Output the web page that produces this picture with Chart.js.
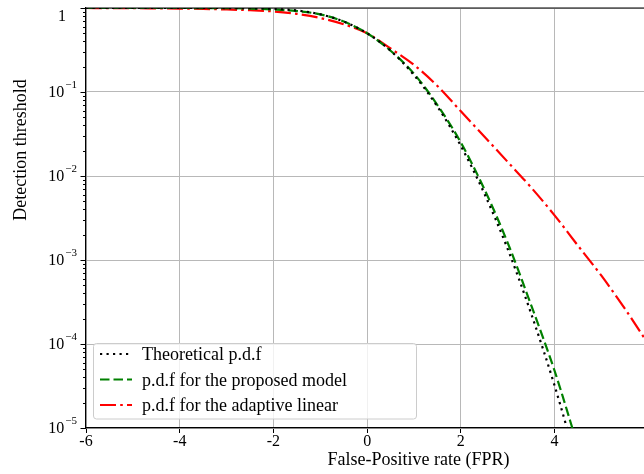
<!DOCTYPE html>
<html>
<head>
<meta charset="utf-8">
<script src="https://cdn.jsdelivr.net/npm/chart.js@4.4.1/dist/chart.umd.min.js"></script>
<style>
  html, body { margin: 0; padding: 0; background: #fff; overflow: hidden; }
  #wrap { width: 760px; height: 474px; }
  canvas { display: block; }
</style>
</head>
<body>
<div id="wrap"><canvas id="myChart" width="760" height="474"></canvas></div>
<script>
const FONT = "'Liberation Serif', 'DejaVu Serif', serif";

const xValues = [-6, -5.5, -5, -4.5, -4, -3.5, -3, -2.5, -2, -1.5, -1, -0.5, 0, 0.5, 1, 1.5, 2, 2.5, 3, 3.5, 4, 4.5, 5, 5.5, 6];
const theoretical = [1, 1, 1, 1, 1, 1, 0.999, 0.994, 0.977, 0.933, 0.841, 0.69, 0.5, 0.31, 0.159, 0.067, 0.0228, 0.0062, 0.00135, 0.00023, 0.000032, 0.0000034, null, null, null];
const proposed = [1, 1, 1, 1, 1, 0.998, 0.995, 0.985, 0.96, 0.92, 0.84, 0.69, 0.5, 0.31, 0.165, 0.07, 0.025, 0.007, 0.0016, 0.00029, 0.000048, 0.000006, null, null, null];
const adaptive = [1, 0.998, 0.995, 0.99, 0.985, 0.975, 0.96, 0.94, 0.91, 0.85, 0.76, 0.64, 0.5, 0.33, 0.21, 0.118, 0.059, 0.0295, 0.0147, 0.0073, 0.0034, 0.00148, 0.00065, 0.000263, 0.0001];

const seriesNames = ["Theoretical p.d.f", "p.d.f for the proposed model", "p.d.f for the adaptive linear"];
const xTitle = "False-Positive rate (FPR)";
const yTitle = "Detection threshold";
const yTickValues = [1e-5, 1e-4, 1e-3, 1e-2, 1e-1, 1];
const yTickExp = [-5, -4, -3, -2, -1, 0];

function pts(arr) {
  return xValues.map((x, i) => ({ x: x, y: arr[i] }));
}

// y labels with superscripts, minor log ticks, titles, top spine, legend box
const decor = {
  id: "decor",
  afterDraw(chart) {
    const ctx = chart.ctx;
    const y = chart.scales.y;
    const a = chart.chartArea;
    ctx.save();
    ctx.strokeStyle = "#000";
    ctx.lineWidth = 1.2;
    // top spine
    ctx.beginPath();
    ctx.moveTo(a.left, a.top);
    ctx.lineTo(a.right, a.top);
    ctx.stroke();
    // major + minor y ticks
    ctx.lineWidth = 1;
    yTickValues.forEach((v, i) => {
      let py = Math.round(y.getPixelForValue(v)) + 0.5;
      ctx.beginPath();
      ctx.moveTo(a.left - 5.5, py);
      ctx.lineTo(a.left, py);
      ctx.stroke();
      if (i < yTickValues.length - 1) {
        for (let m = 2; m <= 9; m++) {
          let my = Math.round(y.getPixelForValue(v * m)) + 0.5;
          ctx.beginPath();
          ctx.moveTo(a.left - 3, my);
          ctx.lineTo(a.left, my);
          ctx.stroke();
        }
      }
    });
    // y labels
    ctx.fillStyle = "#000";
    ctx.textBaseline = "alphabetic";
    yTickValues.forEach((v, i) => {
      let py = y.getPixelForValue(v);
      let right = a.left - 9;
      if (yTickExp[i] === 0) {
        ctx.font = "16px " + FONT;
        ctx.textAlign = "right";
        ctx.fillText("1", a.left - 20, py + 13);
        return;
      }
      ctx.font = "11px " + FONT;
      ctx.textAlign = "right";
      let sup = "\u2212" + Math.abs(yTickExp[i]);
      let sw = ctx.measureText(sup).width;
      ctx.fillText(sup, right, py - 4);
      ctx.font = "16px " + FONT;
      ctx.fillText("10", right - sw - 1, py + 5);
    });
    // axis titles
    ctx.font = "18px " + FONT;
    ctx.textAlign = "center";
    ctx.fillText(xTitle, 418.5, 465);
    ctx.save();
    ctx.translate(25.5, 150);
    ctx.rotate(-Math.PI / 2);
    ctx.fillText(yTitle, 0, 0);
    ctx.restore();
    // legend
    const lx = 93.5, ly = 343.5, lw = 323, lh = 75.5;
    ctx.fillStyle = "rgba(255,255,255,0.8)";
    ctx.strokeStyle = "#cccccc";
    ctx.lineWidth = 1;
    ctx.beginPath();
    ctx.roundRect(lx, ly, lw, lh, 3);
    ctx.fill();
    ctx.stroke();
    chart.data.datasets.forEach((ds, i) => {
      let cy = 354 + i * 25.5;
      ctx.strokeStyle = ds.borderColor;
      ctx.lineWidth = ds.borderWidth;
      ctx.setLineDash(ds.borderDash);
      ctx.lineCap = "butt";
      ctx.beginPath();
      ctx.moveTo(100, cy);
      ctx.lineTo(132, cy);
      ctx.stroke();
      ctx.setLineDash([]);
      ctx.fillStyle = "#000";
      ctx.font = "18px " + FONT;
      ctx.textAlign = "left";
      ctx.textBaseline = "alphabetic";
      ctx.fillText(ds.label, 142, cy + 6);
    });
    ctx.restore();
  },
};

const ctx = document.getElementById("myChart").getContext("2d");

new Chart(ctx, {
  type: "line",
  data: {
    datasets: [
      {
        label: seriesNames[0],
        data: pts(theoretical),
        borderColor: "#000000",
        borderWidth: 2.2,
        borderDash: [2.2, 4.3],
      },
      {
        label: seriesNames[1],
        data: pts(proposed),
        borderColor: "#008000",
        borderWidth: 2.2,
        borderDash: [9.5, 4],
      },
      {
        label: seriesNames[2],
        data: pts(adaptive),
        borderColor: "#ff0000",
        borderWidth: 2.2,
        borderDash: [16, 4.2, 2.6, 4.2],
      },
    ],
  },
  options: {
    responsive: false,
    animation: false,
    devicePixelRatio: 1,
    layout: { padding: { left: 0, top: 8, right: 18, bottom: 0 } },
    elements: {
      point: { radius: 0 },
      line: { cubicInterpolationMode: "monotone", fill: false },
    },
    plugins: {
      legend: { display: false },
      tooltip: { enabled: false },
    },
    scales: {
      x: {
        type: "linear",
        min: -6,
        max: 8,
        afterFit: (s) => { s.height = 46; },
        ticks: {
          stepSize: 2,
          color: "#000",
          padding: -1,
          maxRotation: 0,
          font: { family: FONT, size: 16 },
        },
        grid: { color: "#b8b8b8", lineWidth: 1, tickColor: "#000", tickLength: 5 },
        border: { color: "#000", width: 1.2 },
      },
      y: {
        type: "logarithmic",
        min: 1e-5,
        max: 1,
        afterFit: (s) => { s.width = 86; },
        afterBuildTicks: (s) => { s.ticks = yTickValues.map((v) => ({ value: v })); },
        ticks: { display: false },
        grid: { color: "#b8b8b8", lineWidth: 1, drawTicks: false },
        border: { color: "#000", width: 1.2 },
      },
    },
  },
  plugins: [decor],
});
</script>
</body>
</html>
